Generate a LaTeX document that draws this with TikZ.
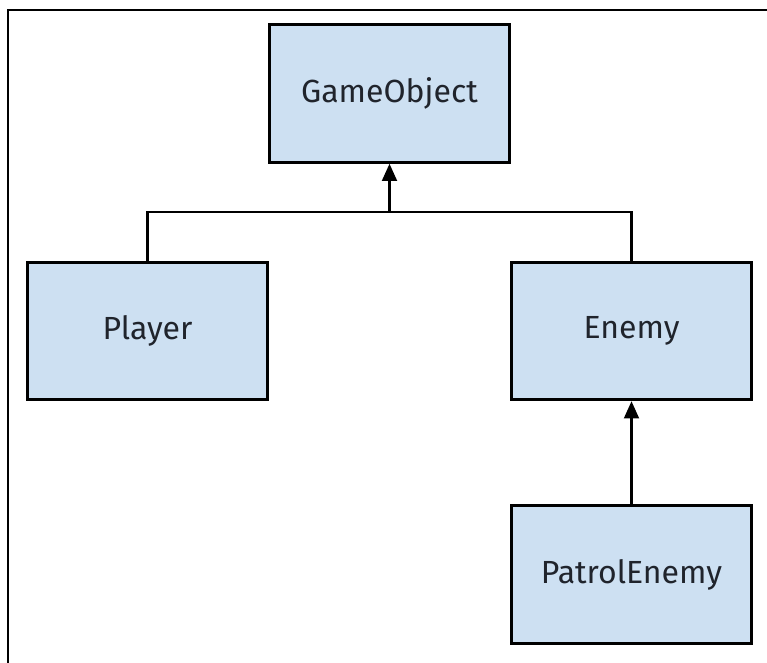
\documentclass[tikz,border=0pt]{standalone}
\usepackage{fontspec}
\setmainfont{Fira Sans}
\usetikzlibrary{arrows.meta}
\definecolor{classfill}{RGB}{205,224,242}
\definecolor{classtext}{RGB}{32,36,44}

\begin{document}
\begin{tikzpicture}[x=0.75pt,y=-0.75pt,
    classbox/.style={draw=black,line width=2.2pt,fill=classfill,
      minimum width=180.5pt,minimum height=103pt,inner sep=0pt,
      text=classtext,font=\fontsize{24}{28}\selectfont},
    link/.style={line width=2.2pt},
    inherit/.style={link,-{Triangle[length=13pt,width=11pt]}}]
    \useasboundingbox (0,0) rectangle (767,663);
    % frame edges
    \draw[line width=2pt] (8,663) -- (8,10) -- (767,10);
    % classes
    \node[classbox] (gameobject) at (389.5,93.5) {\raisebox{-2pt}{GameObject}};
    \node[classbox] (player) at (147.5,331) {\raisebox{-2pt}{Player}};
    \node[classbox] (enemy) at (631.5,331) {\raisebox{-2pt}{Enemy}};
    \node[classbox] (patrol) at (631.5,574.5) {\raisebox{-2pt}{PatrolEnemy}};
    % inheritance
    \coordinate (bar) at (389.5,212);
    \draw[link] (player.north) |- (bar) -| (enemy.north);
    \draw[inherit] (bar) -- (gameobject.south);
    \draw[inherit] (patrol.north) -- (enemy.south);
  \end{tikzpicture}
\end{document}
